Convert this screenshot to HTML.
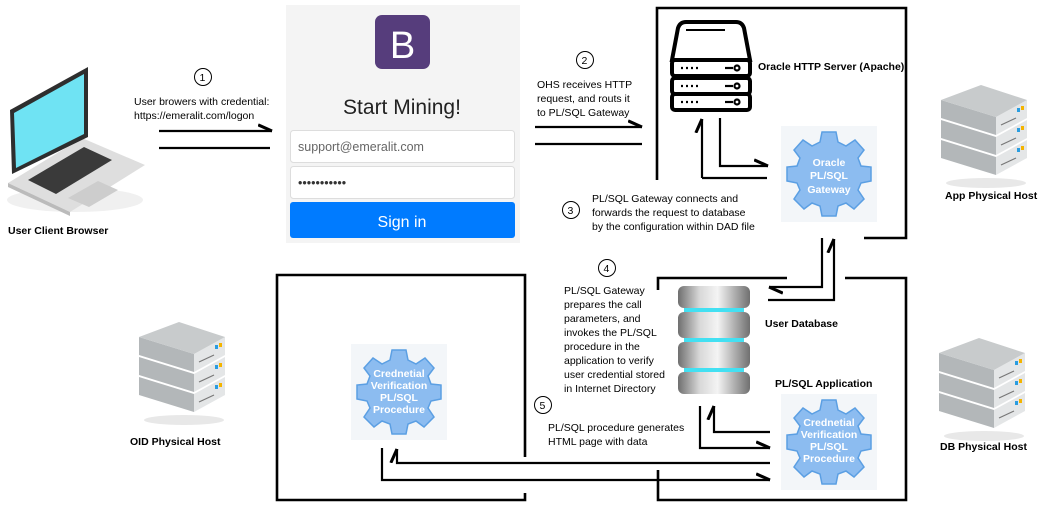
<!DOCTYPE html>
<html><head><meta charset="utf-8"><style>
html,body{margin:0;padding:0;background:#fff;}
svg{display:block;font-family:"Liberation Sans",Arial,sans-serif;}
.t{font-size:10.5px;fill:#000;}
.b{font-size:10.5px;font-weight:bold;fill:#000;}
.w{font-size:10.5px;font-weight:bold;fill:#fff;}
.ln{stroke:#000;stroke-width:2.2;fill:none;}
.bx{stroke:#000;stroke-width:2.6;fill:none;}
</style></head><body>
<svg width="1050" height="511" viewBox="0 0 1050 511" xmlns="http://www.w3.org/2000/svg">
<defs>
<marker id="ah" viewBox="0 0 10 10" refX="9" refY="5" markerWidth="7" markerHeight="7" orient="auto"><path d="M0,1 L9,5" stroke="#000" stroke-width="2" fill="none"/></marker>
<g id="srv">
 <g>
  <polygon points="0,55 55,72 55,90 0,73" fill="#b3b7b9"/><polygon points="55,72 86,55 86,73 55,90" fill="#e4e6e7"/>
  <line x1="60" y1="80" x2="75" y2="73" stroke="#777" stroke-width="1.2"/><rect x="76" y="63" width="3" height="4" fill="#2a9de0"/><rect x="80" y="61" width="3" height="4" fill="#f4b400"/>
  <polygon points="0,35 55,52 55,70 0,53" fill="#b3b7b9"/><polygon points="55,52 86,35 86,53 55,70" fill="#e4e6e7"/>
  <line x1="60" y1="60" x2="75" y2="53" stroke="#777" stroke-width="1.2"/><rect x="76" y="43" width="3" height="4" fill="#2a9de0"/><rect x="80" y="41" width="3" height="4" fill="#f4b400"/>
  <polygon points="0,15 55,32 55,50 0,33" fill="#b3b7b9"/><polygon points="55,32 86,15 86,33 55,50" fill="#e4e6e7"/>
  <line x1="60" y1="40" x2="75" y2="33" stroke="#777" stroke-width="1.2"/><rect x="76" y="23" width="3" height="4" fill="#2a9de0"/><rect x="80" y="21" width="3" height="4" fill="#f4b400"/>
  <polygon points="0,15 40,0 86,15 55,32" fill="#c8cbcc"/>
  <ellipse cx="45" cy="98" rx="40" ry="5" fill="#e8e8e8"/>
 </g>
</g>
<g id="gear">
 <rect x="-48" y="-48" width="96" height="96" fill="#f3f6f9"/>
 <g fill="#8cbcf0" stroke="#5b9fe3" stroke-width="1.5">
  <path d="M-7,-42 L7,-42 L9,-32 L17,-28 L26,-34 L35,-24 L29,-16 L32,-8 L42,-7 L42,7 L32,9 L29,16 L35,25 L25,35 L17,29 L9,32 L7,42 L-7,42 L-9,32 L-17,29 L-25,35 L-35,25 L-29,16 L-32,9 L-42,7 L-42,-7 L-32,-8 L-29,-16 L-35,-24 L-26,-34 L-17,-28 L-9,-32 Z"/>
 </g>
</g>
</defs>

<!-- laptop -->
<g>
 <ellipse cx="75" cy="200" rx="68" ry="12" fill="#f0f0f0"/>
 <polygon points="8,183 82,138 145,165 70,212" fill="#dedede"/>
 <polygon points="8,183 70,212 70,216 8,187" fill="#bbb"/>
 <polygon points="28,180 84,147 112,160 56,194" fill="#3a3a3a"/>
 <polygon points="68,198 98,181 118,190 89,207" fill="#cdcdcd"/>
 <polygon points="12,174 10,110 88,67 88,137" fill="#2e2e2e"/>
 <polygon points="16,168 14,113 84,74 84,134" fill="#6fe3f3"/>
</g>
<text class="b" x="8" y="234">User Client Browser</text>

<!-- step 1 -->
<circle cx="203" cy="77" r="8.5" fill="#fff" stroke="#000"/>
<text class="t" x="199.5" y="81">1</text>
<text class="t" x="134" y="105">User browers with credential:</text>
<text class="t" x="134" y="119">https://emeralit.com/logon</text>
<line class="ln" x1="159" y1="131" x2="272" y2="131" marker-end="url(#ah)"/>
<line class="ln" x1="159" y1="148" x2="270" y2="148"/>

<!-- login -->
<rect x="286" y="5" width="234" height="238" fill="#f4f4f4"/>
<rect x="375" y="15" width="55" height="54" rx="7" fill="#563d7c"/>
<text x="402.5" y="58" font-size="38" fill="#fff" text-anchor="middle">B</text>
<text x="402" y="114" font-size="21" fill="#222" text-anchor="middle">Start Mining!</text>
<rect x="290.5" y="130.5" width="224" height="32" rx="3" fill="#fff" stroke="#ddd"/>
<text x="298" y="151" font-size="12.5" fill="#666">support@emeralit.com</text>
<rect x="290.5" y="166.5" width="224" height="32" rx="3" fill="#fff" stroke="#ddd"/>
<text x="298" y="187" font-size="12.5" fill="#333">•••••••••••</text>
<rect x="290" y="202" width="225" height="36" rx="3" fill="#007bff"/>
<text x="402" y="227" font-size="16" fill="#fff" text-anchor="middle">Sign in</text>

<!-- step 2 -->
<circle cx="585" cy="60" r="8.5" fill="#fff" stroke="#000"/>
<text class="t" x="581.5" y="64">2</text>
<text class="t" x="537" y="88">OHS receives HTTP</text>
<text class="t" x="537" y="102">request, and routs it</text>
<text class="t" x="537" y="116">to PL/SQL Gateway</text>
<line class="ln" x1="535" y1="127" x2="642" y2="127" marker-end="url(#ah)"/>
<line class="ln" x1="535" y1="144" x2="642" y2="144"/>

<!-- app host box -->
<path class="bx" d="M657,180 L657,8 L906,8 L906,238 L864,238"/>
<!-- OHS icon -->
<g fill="none" stroke="#000" stroke-width="4">
 <path d="M672,60 L678,28 Q680,22 686,22 L736,22 Q742,22 744,28 L750,60 Z" fill="#fff"/>
 <rect x="672" y="60" width="78" height="16" rx="3" fill="#fff"/>
 <rect x="672" y="78" width="78" height="16" rx="3" fill="#fff"/>
 <rect x="672" y="94" width="78" height="16" rx="3" fill="#fff"/>
</g>
<line x1="686" y1="30" x2="725" y2="30" stroke="#000" stroke-width="2"/>
<g stroke="#000" stroke-width="2.2">
 <line x1="681" y1="68" x2="701" y2="68" stroke-dasharray="2,3"/><line x1="725" y1="68" x2="733" y2="68"/><circle cx="737" cy="68" r="2.5" fill="none"/>
 <line x1="681" y1="86" x2="701" y2="86" stroke-dasharray="2,3"/><line x1="725" y1="86" x2="733" y2="86"/><circle cx="737" cy="86" r="2.5" fill="none"/>
 <line x1="681" y1="102" x2="701" y2="102" stroke-dasharray="2,3"/><line x1="725" y1="102" x2="733" y2="102"/><circle cx="737" cy="102" r="2.5" fill="none"/>
</g>
<text class="b" x="758" y="70" font-size="10">Oracle HTTP Server (Apache)</text>
<use href="#gear" transform="translate(829,174)"/>
<text class="w" x="829" y="166" text-anchor="middle">Oracle</text>
<text class="w" x="829" y="179" text-anchor="middle">PL/SQL</text>
<text class="w" x="829" y="193" text-anchor="middle">Gateway</text>
<path class="ln" d="M702,178 L702,119" marker-end="url(#ah)"/>
<line class="ln" x1="702" y1="178" x2="767" y2="178"/>
<path class="ln" d="M720,118 L720,166 L768,166" marker-end="url(#ah)"/>
<use href="#srv" transform="translate(941,85)"/>
<text class="b" x="945" y="199">App Physical Host</text>

<!-- step 3 -->
<circle cx="571" cy="210" r="8.5" fill="#fff" stroke="#000"/>
<text class="t" x="567.5" y="214">3</text>
<text class="t" x="592" y="202">PL/SQL Gateway connects and</text>
<text class="t" x="592" y="216">forwards the request to database</text>
<text class="t" x="592" y="230">by the configuration within DAD file</text>

<!-- connectors gateway-db -->
<path class="ln" d="M822,238 L822,287 L769,287" marker-end="url(#ah)"/>
<path class="ln" d="M768,300 L834,300 L834,239" marker-end="url(#ah)"/>

<!-- DB box -->
<path class="bx" d="M658,290 L658,278 L787,278 M845,278 L906,278 L906,500 L658,500 L658,470"/>
<defs><linearGradient id="mg" x1="0" x2="1"><stop offset="0" stop-color="#6f6f6f"/><stop offset=".3" stop-color="#d8d8d8"/><stop offset=".55" stop-color="#f4f4f4"/><stop offset="1" stop-color="#707070"/></linearGradient></defs>
<g fill="url(#mg)">
 <rect x="678" y="286" width="72" height="22" rx="6"/>
 <rect x="678" y="312" width="72" height="26" rx="6"/>
 <rect x="678" y="342" width="72" height="26" rx="6"/>
 <rect x="678" y="372" width="72" height="22" rx="6"/>
</g>
<g fill="#43e0f2"><rect x="684" y="308" width="60" height="4"/><rect x="684" y="338" width="60" height="4"/><rect x="684" y="368" width="60" height="4"/></g>
<text class="b" x="765" y="327">User Database</text>
<text class="b" x="775" y="387">PL/SQL Application</text>
<use href="#gear" transform="translate(829,442)"/>
<text class="w" x="829" y="426" text-anchor="middle">Crednetial</text>
<text class="w" x="829" y="438" text-anchor="middle">Verification</text>
<text class="w" x="829" y="450" text-anchor="middle">PL/SQL</text>
<text class="w" x="829" y="462" text-anchor="middle">Procedure</text>
<path class="ln" d="M770,432 L714,432 L714,406" marker-end="url(#ah)"/>
<path class="ln" d="M700,406 L700,448 L770,448" marker-end="url(#ah)"/>
<path class="ln" d="M770,463 L397,463 L397,449" marker-end="url(#ah)"/>
<path class="ln" d="M382,448 L382,480 L770,480" marker-end="url(#ah)"/>
<use href="#srv" transform="translate(939,338)"/>
<text class="b" x="940" y="450">DB Physical Host</text>

<!-- step 4 -->
<circle cx="607" cy="268" r="8.5" fill="#fff" stroke="#000"/>
<text class="t" x="603.5" y="272">4</text>
<text class="t" x="564" y="294">PL/SQL Gateway</text>
<text class="t" x="564" y="308">prepares the call</text>
<text class="t" x="564" y="322">parameters, and</text>
<text class="t" x="564" y="336">invokes the PL/SQL</text>
<text class="t" x="564" y="350">procedure in the</text>
<text class="t" x="564" y="364">application to verify</text>
<text class="t" x="564" y="378">user credential stored</text>
<text class="t" x="564" y="392">in Internet Directory</text>
<!-- step 5 -->
<circle cx="543" cy="405" r="8.5" fill="#fff" stroke="#000"/>
<text class="t" x="539.5" y="409">5</text>
<text class="t" x="548" y="431">PL/SQL procedure generates</text>
<text class="t" x="548" y="445">HTML page with data</text>

<!-- OID box -->
<path class="bx" d="M525,457 L525,275 L277,275 L277,500 L525,500 L525,493"/>
<use href="#gear" transform="translate(399,392)"/>
<text class="w" x="399" y="377" text-anchor="middle">Crednetial</text>
<text class="w" x="399" y="389" text-anchor="middle">Verification</text>
<text class="w" x="399" y="401" text-anchor="middle">PL/SQL</text>
<text class="w" x="399" y="413" text-anchor="middle">Procedure</text>
<use href="#srv" transform="translate(139,322)"/>
<text class="b" x="130" y="445">OID Physical Host</text>
</svg>
</body></html>
